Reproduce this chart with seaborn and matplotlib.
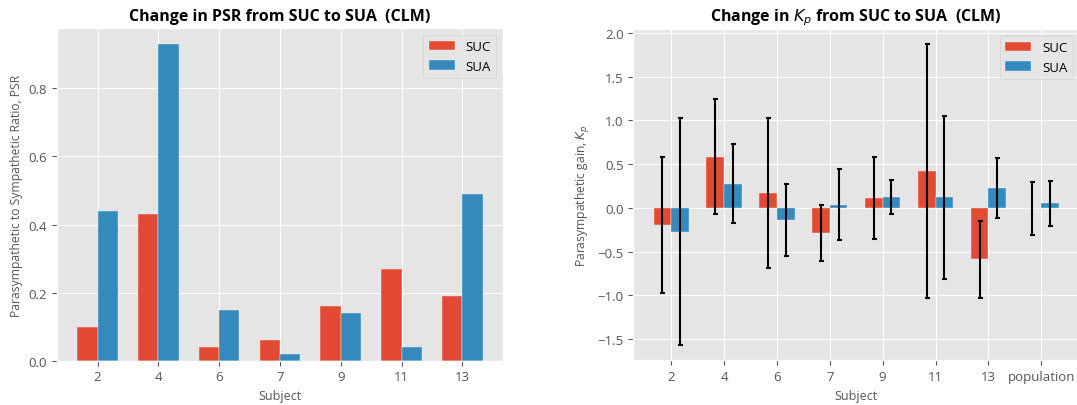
import matplotlib
matplotlib.use("Agg")
import numpy as np
import pandas as pd
import matplotlib.pyplot as plt
import seaborn as sns

# PSR per subject
subjects = ["2", "4", "6", "7", "9", "11", "13"]
psr_suc = [0.10, 0.43, 0.04, 0.06, 0.16, 0.27, 0.19]
psr_sua = [0.44, 0.93, 0.15, 0.02, 0.14, 0.04, 0.49]

# Kp per subject + population, with error bar half-widths
kp_groups = ["2", "4", "6", "7", "9", "11", "13", "population"]
kp_suc = [-0.20, 0.585, 0.167, -0.289, 0.114, 0.422, -0.586, -0.005]
kp_sua = [-0.27, 0.277, -0.141, 0.034, 0.125, 0.122, 0.228, 0.053]
kp_suc_err = [0.777, 0.655, 0.855, 0.323, 0.47, 1.45, 0.44, 0.30]
kp_sua_err = [1.30, 0.455, 0.41, 0.405, 0.196, 0.93, 0.346, 0.258]

conditions = ["SUC", "SUA"]
colors = ["#E24A33", "#348ABD"]

plt.style.use("ggplot")
plt.rcParams["font.family"] = ["Open Sans", "DejaVu Sans"]
plt.rcParams["axes.unicode_minus"] = True

df_psr = pd.DataFrame({
    "subject": subjects * 2,
    "value": psr_suc + psr_sua,
    "condition": ["SUC"] * len(subjects) + ["SUA"] * len(subjects),
})
df_kp = pd.DataFrame({
    "subject": kp_groups * 2,
    "value": kp_suc + kp_sua,
    "condition": ["SUC"] * len(kp_groups) + ["SUA"] * len(kp_groups),
})

fig = plt.figure(figsize=(10.77, 4.06), dpi=100)
ax1 = fig.add_axes([0.0529, 0.109, 0.414, 0.819])
ax2 = fig.add_axes([0.588, 0.110, 0.414, 0.816])

bar_kw = dict(x="subject", y="value", hue="condition", hue_order=conditions,
              palette=colors, width=0.667, errorbar=None, saturation=1,
              edgecolor="#EEEEEE", linewidth=0.3)

# left: PSR
sns.barplot(data=df_psr, order=subjects, ax=ax1, **bar_kw)
ax1.set_xlim(-0.667, len(subjects) - 1 + 0.667)
ax1.xaxis.grid(True)
ax1.set_title("Change in PSR from SUC to SUA  (CLM)", fontsize=11.5,
              fontweight="bold", color="black")
ax1.set_xlabel("Subject", fontsize=9, color="#555555")
ax1.set_ylabel("Parasympathetic to Sympathetic Ratio, PSR", fontsize=8.7,
               color="#555555")
ax1.legend(loc="upper right", fontsize=9.5)

# right: Kp with error bars
sns.barplot(data=df_kp, order=kp_groups, ax=ax2, **bar_kw)
for cont, vals, errs in zip(ax2.containers, [kp_suc, kp_sua], [kp_suc_err, kp_sua_err]):
    xs = [b.get_x() + b.get_width() / 2 for b in cont]
    ax2.errorbar(xs, vals, yerr=errs, fmt="none", ecolor="black",
                 elinewidth=1.5, capsize=1.8, capthick=1.5)
ax2.set_xlim(-0.717, len(kp_groups) - 1 + 0.717)
ax2.xaxis.grid(True)
ax2.set_title("Change in $K_p$ from SUC to SUA  (CLM)", fontsize=11.5,
              fontweight="bold", color="black")
ax2.set_xlabel("Subject", fontsize=9, color="#555555")
ax2.set_ylabel("Parasympathetic gain, $K_p$", fontsize=8.7, color="#555555")
ax2.legend(loc="upper right", fontsize=9.5)

for ax in (ax1, ax2):
    ax.tick_params(labelsize=9.5)

fig.savefig("out.png", dpi=100)
